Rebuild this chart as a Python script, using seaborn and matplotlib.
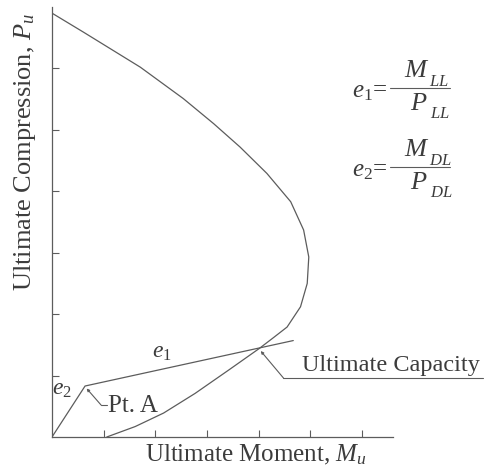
import matplotlib
matplotlib.use("Agg")

import matplotlib.pyplot as plt
import seaborn as sns
from matplotlib.lines import Line2D

# interaction curve (ultimate moment vs ultimate compression)
curve_moment = [0.00, 0.61, 1.71, 2.54, 3.13, 3.64, 4.16, 4.62, 4.87, 4.97,
                4.94, 4.81, 4.55, 4.29, 4.01, 3.42, 2.77, 2.16, 1.61, 1.06]
curve_compression = [6.90, 6.59, 6.02, 5.51, 5.10, 4.72, 4.29, 3.83, 3.37, 2.93,
                     2.50, 2.12, 1.79, 1.62, 1.44, 1.09, 0.71, 0.39, 0.17, 0.00]

# load path: dead load (e2) up to Pt. A, then live load (e1) past the capacity point
path_moment = [0.00, 0.64, 4.67]
path_compression = [0.00, 0.83, 1.57]

pt_a = (0.64, 0.83)
capacity = (4.01, 1.44)

x_ticks = [1, 2, 3, 4, 5, 6]
y_ticks = [1, 2, 3, 4, 5, 6]

INK = "#5c5c5c"
TEXT = "#3c3c3c"
W, H = 487, 470

sns.set_theme(style="ticks")
plt.rcParams["font.family"] = ["Liberation Serif", "DejaVu Serif"]
plt.rcParams["mathtext.fontset"] = "custom"
plt.rcParams["mathtext.rm"] = "Liberation Serif"
plt.rcParams["mathtext.it"] = "Liberation Serif:italic"

fig = plt.figure(figsize=(W / 100, H / 100), dpi=100)
ax = fig.add_axes([52 / W, 33 / H, 341 / W, 430 / H])


def ftext(px, py, s, **kw):
    """Place text at a pixel position (origin top-left)."""
    kw.setdefault("color", TEXT)
    return fig.text(px / W, 1 - py / H, s, **kw)


sns.lineplot(x=curve_moment, y=curve_compression, sort=False, estimator=None,
             color=INK, lw=0.9, ax=ax)
sns.lineplot(x=path_moment, y=path_compression, sort=False, estimator=None,
             color=INK, lw=0.9, ax=ax)

ax.set_xlim(0, 6.6)
ax.set_ylim(0, 7.0)
ax.set_xticks(x_ticks)
ax.set_yticks(y_ticks)
ax.tick_params(direction="in", length=5, width=0.8, color=INK,
               labelbottom=False, labelleft=False)
sns.despine(ax=ax)
for side in ("left", "bottom"):
    ax.spines[side].set_color(INK)
    ax.spines[side].set_linewidth(0.9)

# labels on the load path
ax.text(0.20, 0.78, "$e_2$", fontsize=17, color=TEXT, ha="center", va="center")
ax.text(2.13, 1.38, "$e_1$", fontsize=17, color=TEXT, ha="center", va="center")

# Pt. A leader
ax.annotate("", xy=(pt_a[0] + 0.03, pt_a[1] - 0.04), xytext=(0.95, 0.52),
            arrowprops=dict(arrowstyle="-|>", color=INK, lw=0.8,
                            mutation_scale=4, shrinkA=0, shrinkB=0))
ax.plot([0.95, 1.06], [0.52, 0.52], color=INK, lw=0.8)
ax.text(1.08, 0.50, "Pt. A", fontsize=18, color=TEXT, ha="left", va="center")

# Ultimate Capacity leader
ax.annotate("", xy=(capacity[0] + 0.03, capacity[1] - 0.04), xytext=(4.48, 0.96),
            arrowprops=dict(arrowstyle="-|>", color=INK, lw=0.8,
                            mutation_scale=4, shrinkA=0, shrinkB=0))
ax.plot([4.48, 8.35], [0.96, 0.96], color=INK, lw=0.8, clip_on=False)
ax.text(4.83, 1.17, "Ultimate Capacity", fontsize=17.5, color=TEXT,
        ha="left", va="center")

# eccentricity definitions, built piece by piece like the printed fractions
for e_name, sub, bar_y in (("$e_1$=", "LL", 88), ("$e_2$=", "DL", 167)):
    ftext(352, bar_y + 4, e_name, fontsize=18, ha="left", va="center")
    fig.add_artist(Line2D([390 / W, 450 / W], [1 - bar_y / H, 1 - bar_y / H],
                          color=INK, lw=0.8))
    ftext(404, bar_y - 17, "$M$", fontsize=19, ha="left", va="center")
    ftext(429, bar_y - 6, f"${sub}$", fontsize=12, ha="left", va="center")
    ftext(410, bar_y + 16, "$P$", fontsize=19, ha="left", va="center")
    ftext(430, bar_y + 26, f"${sub}$", fontsize=12, ha="left", va="center")

ftext(256, 455, "Ultimate Moment, $M_u$", fontsize=18, ha="center", va="center")
ftext(25, 152, "Ultimate Compression, $P_u$", fontsize=19, ha="center",
      va="center", rotation=90)

fig.savefig("out.png", dpi=100)
